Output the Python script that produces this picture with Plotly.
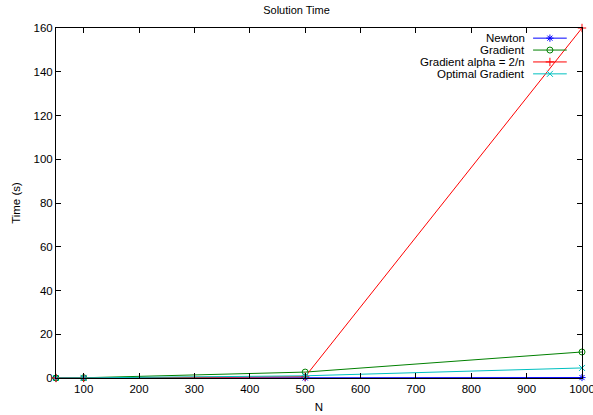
import plotly.graph_objects as go

N = [50, 100, 500, 1000]
newton = [0.0, 0.0, 0.05, 0.2]
gradient = [0.0, 0.1, 2.7, 11.9]
gradient_alpha = [0.0, 0.0, 0.6, 160.0]
optimal_gradient = [0.0, 0.05, 1.0, 4.6]

names = ["Newton", "Gradient", "Gradient alpha = 2/n", "Optimal Gradient"]
series = [newton, gradient, gradient_alpha, optimal_gradient]
colors = ["#0000ff", "#008000", "#ff0000", "#00c0c0"]
symbols = ["asterisk-open", "circle-open", "cross-thin-open", "x-thin-open"]

FONT = "Liberation Sans, Arial, sans-serif"

fig = go.Figure()
for name, vals, c, s in zip(names, series, colors, symbols):
    fig.add_trace(go.Scatter(
        x=N, y=vals, name=name, mode="lines+markers",
        line=dict(color=c, width=1),
        marker=dict(symbol=s, size=6, color=c, line=dict(color=c, width=1)),
        showlegend=False, cliponaxis=False,
    ))

# custom gnuplot-style legend (text right, sample on the right)
row_y = [0.971, 0.937, 0.903, 0.869]
lx0, lx1, lxm, tx = 0.907, 0.971, 0.939, 0.895
for name, c, s, yy in zip(names, colors, symbols, row_y):
    fig.add_trace(go.Scatter(
        x=[lx0, lx1], y=[yy, yy], mode="lines", line=dict(color=c, width=1),
        xaxis="x2", yaxis="y2", showlegend=False, hoverinfo="skip"))
    fig.add_trace(go.Scatter(
        x=[lxm], y=[yy], mode="markers",
        marker=dict(symbol=s, size=6, color=c, line=dict(color=c, width=1)),
        xaxis="x2", yaxis="y2", showlegend=False, hoverinfo="skip"))
    fig.add_annotation(x=tx, y=yy, xref="x2", yref="y2", text=name,
                       showarrow=False, xanchor="right", yanchor="middle",
                       font=dict(family=FONT, size=11.5, color="#000"))

fig.update_layout(
    width=593, height=415,
    margin=dict(l=56, r=11, t=28, b=37, autoexpand=False),
    paper_bgcolor="white", plot_bgcolor="white",
    font=dict(family=FONT, size=11, color="#000"),
    title=dict(text="Solution Time", x=0.5, xanchor="center", y=0.985, yanchor="top",
               font=dict(family=FONT, size=11)),
    xaxis=dict(range=[50, 1000], tickvals=list(range(100, 1001, 100)),
               ticks="inside", ticklen=5, tickcolor="#000", showline=True,
               linecolor="#000", linewidth=1, mirror="ticks", showgrid=False,
               zeroline=False, automargin=False, ticklabeloverflow="allow",
               title=dict(text="N", standoff=9, font=dict(family=FONT, size=11.5)),
               tickfont=dict(family=FONT, size=11.5)),
    yaxis=dict(range=[0, 160], tickvals=list(range(0, 161, 20)),
               ticks="inside", ticklen=5, tickcolor="#000", showline=True,
               linecolor="#000", linewidth=1, mirror="ticks", showgrid=False,
               zeroline=False, automargin=False,
               title=dict(text="Time (s)", standoff=10, font=dict(family=FONT, size=11.5)),
               tickfont=dict(family=FONT, size=11.5)),
    xaxis2=dict(range=[0, 1], overlaying="x", visible=False, fixedrange=True),
    yaxis2=dict(range=[0, 1], overlaying="y", visible=False, fixedrange=True),
    showlegend=False,
)

fig.write_html("out.html")
